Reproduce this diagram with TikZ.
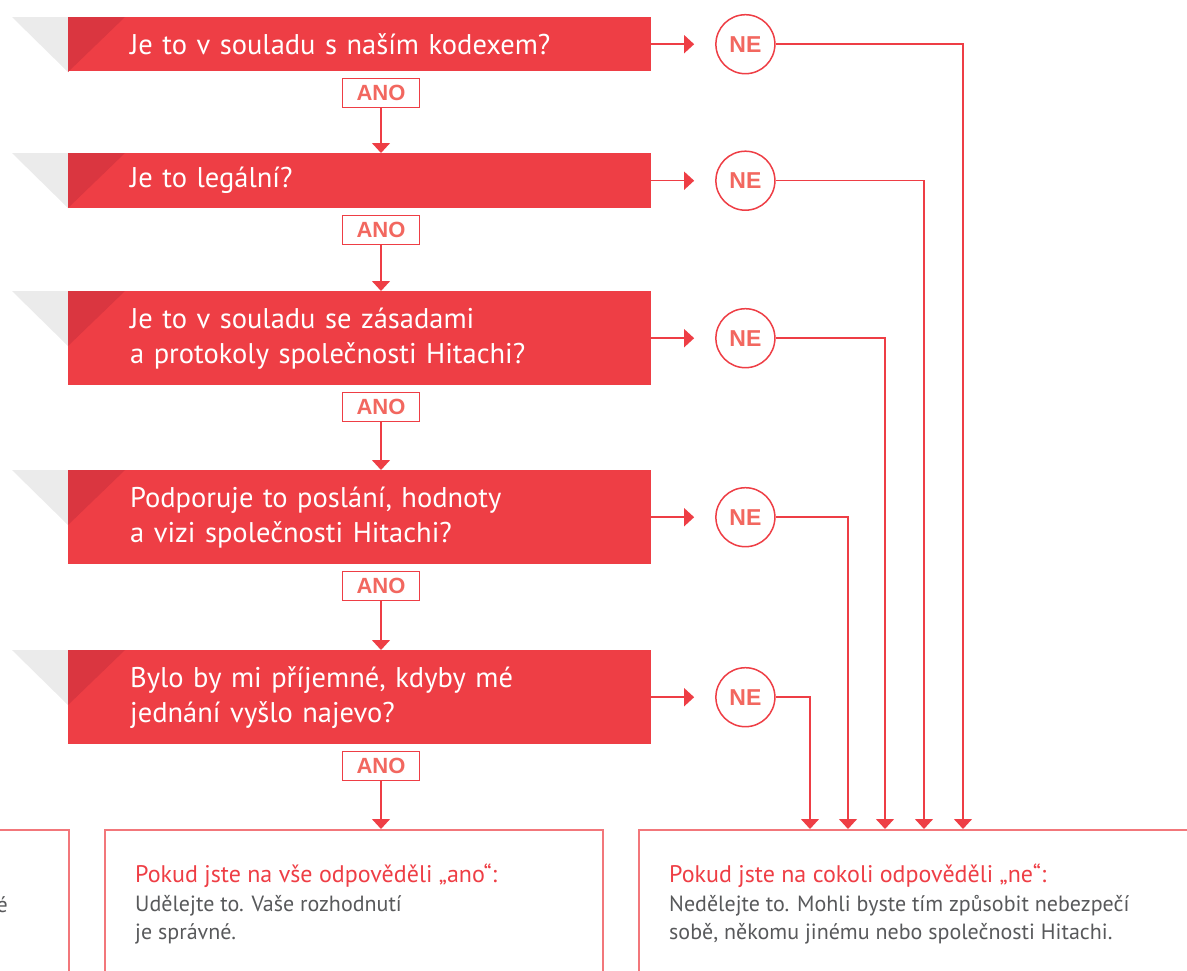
\documentclass[tikz,border=0pt]{standalone}
\usepackage{fontspec}
\setmainfont{PT Sans}
\newfontfamily\labelfont{Liberation Sans}
\usetikzlibrary{arrows.meta}

\definecolor{hitachired}{HTML}{EE3E45}
\definecolor{hitachidark}{HTML}{DA3640}
\definecolor{hitachigrey}{HTML}{EBEBEB}
\definecolor{labelred}{HTML}{F2675F}
\definecolor{boxred}{HTML}{F2777B}
\definecolor{textgrey}{HTML}{58595B}

\begin{document}
\begin{tikzpicture}[x=1pt,y=-1pt,
  question/.style={rectangle,fill=hitachired,text=white,anchor=north west,inner xsep=62pt,inner ysep=0pt,minimum width=583pt,text width=459pt,align=left,font=\fontsize{28.5}{35}\selectfont},
  yes/.style={rectangle,draw=hitachired,line width=1.5pt,fill=white,text=labelred,minimum width=77pt,minimum height=29pt,inner sep=0pt,font=\labelfont\bfseries\fontsize{22}{22}\selectfont},
  no/.style={circle,draw=hitachired,line width=1.5pt,fill=white,text=labelred,minimum size=59pt,inner sep=0pt,font=\labelfont\bfseries\fontsize{23}{23}\selectfont},
  answer/.style={rectangle,draw=boxred,line width=1.5pt,anchor=north west,minimum height=200pt,inner sep=0pt},
  heading/.style={anchor=base west,inner sep=0pt,text=hitachired,font=\fontsize{24}{28}\selectfont},
  body/.style={anchor=north west,inner sep=0pt,text=textgrey,align=left,font=\fontsize{22}{28}\selectfont},
  flow/.style={draw=hitachired,line width=1.5pt,-{Triangle[length=10pt,width=18pt]}}]
  \useasboundingbox (0,0) rectangle (1187,970);
  \clip (0,0) rectangle (1187,970);

  % answer boxes at the bottom
  \node[answer,minimum width=168pt] (other) at (-100,829) {};
  \node[answer,minimum width=498pt] (allyes) at (104,829) {};
  \node[answer,minimum width=600pt] (anyno) at (638,829) {};

  \node[body,anchor=base east] (othertext) at (8,912) {é};
  \node[heading] (yeshead) at (135,882) {Pokud jste na vše odpověděli „ano“:};
  \node[body] (yestext) at (135,895) {Udělejte to. Vaše rozhodnutí\\je správné.};
  \node[heading] (nohead) at (669,882) {Pokud jste na cokoli odpověděli „ne“:};
  \node[body] (notext) at (669,895) {Nedělejte to. Mohli byste tím způsobit nebezpečí\\sobě, někomu jinému nebo společnosti Hitachi.};

  % questions
  \node[question,minimum height=54pt] (q1) at (68,17) {Je to v souladu s naším kodexem?};
  \node[question,minimum height=55pt] (q2) at (68,153) {Je to legální?};
  \node[question,minimum height=94pt] (q3) at (68,291) {Je to v souladu se zásadami\\a protokoly společnosti Hitachi?};
  \node[question,minimum height=94pt] (q4) at (68,470) {Podporuje to poslání, hodnoty\\a vizi společnosti Hitachi?};
  \node[question,minimum height=94pt] (q5) at (68,650) {Bylo by mi příjemné, kdyby mé\\jednání vyšlo najevo?};

  \foreach \q in {q1,q2,q3,q4,q5} {
    \fill[hitachigrey] (\q.north west) -- ++(-56,0) -- ++(56,55) -- cycle;
    \fill[hitachidark] (\q.north west) -- ++(57,0) -- ++(-57,55) -- cycle;
  }

  % yes answers
  \node[yes] (a1) at (381,93) {ANO};
  \node[yes] (a2) at (381,230) {ANO};
  \node[yes] (a3) at (381,407) {ANO};
  \node[yes] (a4) at (381,586) {ANO};
  \node[yes] (a5) at (381,766) {ANO};

  \foreach \from/\to in {a1/q2,a2/q3,a3/q4,a4/q5,a5/allyes}
    \draw[flow] (\from) -- (\from |- \to.north);

  % no answers
  \foreach \n/\x in {1/963,2/924,3/885,4/848,5/810} {
    \path (q\n.east) ++(94,0) node[no] (ne\n) {NE};
    \draw[flow,shorten >=21pt] (q\n.east) -- (ne\n.west);
    \draw[flow] (ne\n.east) -| (\x,0 |- anyno.north);
  }
\end{tikzpicture}
\end{document}
